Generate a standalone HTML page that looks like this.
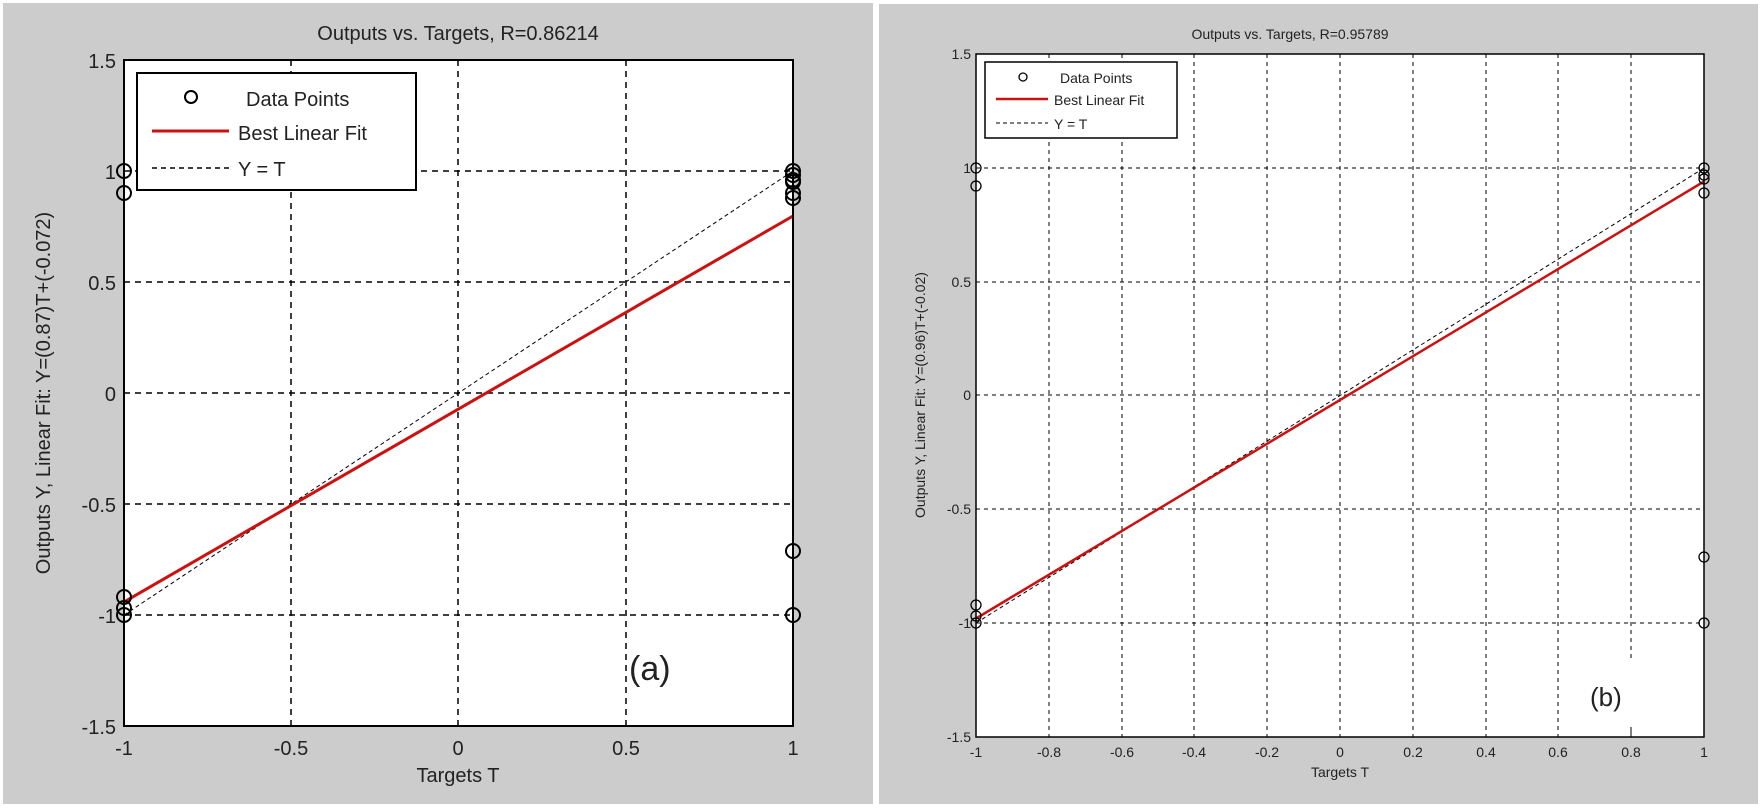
<!DOCTYPE html>
<html><head><style>body{margin:0;background:#fff}svg{display:block}text{font-family:"Liberation Sans",sans-serif;fill:#222}</style></head><body>
<svg width="1761" height="808" viewBox="0 0 1761 808" xmlns="http://www.w3.org/2000/svg">
<rect x="0" y="0" width="1761" height="808" fill="#fff"/>
<rect x="3" y="3" width="870" height="801" fill="#cccccc"/>
<rect x="879" y="4" width="879" height="800" fill="#cccccc"/>
<rect x="124" y="60" width="669" height="666" fill="#fff"/>
<g stroke="#000" stroke-width="1.5" stroke-dasharray="6,5" fill="none">
<line x1="291" y1="60" x2="291" y2="726"/><line x1="458" y1="60" x2="458" y2="726"/><line x1="626" y1="60" x2="626" y2="726"/>
<line x1="124" y1="171" x2="793" y2="171"/><line x1="124" y1="282" x2="793" y2="282"/><line x1="124" y1="393" x2="793" y2="393"/><line x1="124" y1="504" x2="793" y2="504"/><line x1="124" y1="615" x2="793" y2="615"/>
</g>
<line x1="124" y1="615" x2="793" y2="171" stroke="#000" stroke-width="1" stroke-dasharray="4,3"/>
<line x1="124" y1="602" x2="793" y2="216" stroke="#cc1111" stroke-width="3"/>
<g stroke="#000" stroke-width="2" fill="none">
<circle cx="124" cy="171" r="7"/><circle cx="124" cy="193" r="7"/><circle cx="124" cy="597" r="7"/><circle cx="124" cy="608" r="7"/><circle cx="124" cy="615" r="7"/>
<circle cx="793" cy="171" r="7"/><circle cx="793" cy="175" r="7"/><circle cx="793" cy="180" r="7"/><circle cx="793" cy="182" r="7"/><circle cx="793" cy="193" r="7"/><circle cx="793" cy="198" r="7"/><circle cx="793" cy="551" r="7"/><circle cx="793" cy="615" r="7"/>
</g>
<rect x="124" y="60" width="669" height="666" fill="none" stroke="#000" stroke-width="2"/>
<rect x="137" y="73" width="279" height="117" fill="#fff" stroke="#000" stroke-width="2"/>
<circle cx="191" cy="97" r="6" fill="none" stroke="#000" stroke-width="2"/>
<text x="246" y="106" font-size="20">Data Points</text>
<line x1="152" y1="131" x2="229" y2="131" stroke="#cc1111" stroke-width="3"/>
<text x="238" y="140" font-size="20">Best Linear Fit</text>
<line x1="152" y1="168" x2="229" y2="168" stroke="#000" stroke-width="1.5" stroke-dasharray="5,4"/>
<text x="238" y="176" font-size="20">Y = T</text>
<text x="458" y="40" font-size="20" text-anchor="middle">Outputs vs. Targets, R=0.86214</text>
<g font-size="20" text-anchor="end">
<text x="116" y="68">1.5</text><text x="116" y="179">1</text><text x="116" y="290">0.5</text><text x="116" y="401">0</text><text x="116" y="512">-0.5</text><text x="116" y="623">-1</text><text x="116" y="734">-1.5</text>
</g>
<g font-size="20" text-anchor="middle">
<text x="124" y="755">-1</text><text x="291" y="755">-0.5</text><text x="458" y="755">0</text><text x="626" y="755">0.5</text><text x="793" y="755">1</text>
<text x="458" y="782">Targets T</text>
</g>
<text transform="translate(50,393) rotate(-90)" font-size="20" text-anchor="middle">Outputs Y,  Linear Fit: Y=(0.87)T+(-0.072)</text>
<text x="629" y="680" font-size="34" font-family="'DejaVu Sans',sans-serif">(a)</text>
<rect x="976" y="54" width="728" height="683" fill="#fff"/>
<g stroke="#000" stroke-width="1" stroke-dasharray="4,4" fill="none">
<line x1="1049" y1="54" x2="1049" y2="737"/><line x1="1122" y1="54" x2="1122" y2="737"/><line x1="1194" y1="54" x2="1194" y2="737"/><line x1="1267" y1="54" x2="1267" y2="737"/><line x1="1340" y1="54" x2="1340" y2="737"/><line x1="1413" y1="54" x2="1413" y2="737"/><line x1="1486" y1="54" x2="1486" y2="737"/><line x1="1558" y1="54" x2="1558" y2="737"/><line x1="1631" y1="54" x2="1631" y2="660"/>
<line x1="976" y1="168" x2="1704" y2="168"/><line x1="976" y1="282" x2="1704" y2="282"/><line x1="976" y1="395" x2="1704" y2="395"/><line x1="976" y1="509" x2="1704" y2="509"/><line x1="976" y1="623" x2="1704" y2="623"/>
</g>
<line x1="976" y1="623" x2="1704" y2="168" stroke="#000" stroke-width="1" stroke-dasharray="4,3"/>
<line x1="976" y1="618.5" x2="1704" y2="181.5" stroke="#cc1111" stroke-width="2.5"/>
<g stroke="#000" stroke-width="1.3" fill="none">
<circle cx="976" cy="168" r="5"/><circle cx="976" cy="186" r="5"/><circle cx="976" cy="605" r="5"/><circle cx="976" cy="616" r="5"/><circle cx="976" cy="623" r="5"/>
<circle cx="1704" cy="168" r="5"/><circle cx="1704" cy="175" r="5"/><circle cx="1704" cy="179" r="5"/><circle cx="1704" cy="193" r="5"/><circle cx="1704" cy="557" r="5"/><circle cx="1704" cy="623" r="5"/>
</g>
<rect x="976" y="54" width="728" height="683" fill="none" stroke="#000" stroke-width="1.5"/>
<line x1="1631" y1="727" x2="1631" y2="737" stroke="#000"/>
<rect x="985" y="62" width="192" height="76" fill="#fff" stroke="#000" stroke-width="1.5"/>
<circle cx="1023" cy="77" r="4" fill="none" stroke="#000" stroke-width="1.3"/>
<text x="1060" y="83" font-size="14">Data Points</text>
<line x1="996" y1="99" x2="1048" y2="99" stroke="#cc1111" stroke-width="2.5"/>
<text x="1054" y="105" font-size="14">Best Linear Fit</text>
<line x1="996" y1="123" x2="1048" y2="123" stroke="#000" stroke-dasharray="4,3"/>
<text x="1054" y="129" font-size="14">Y = T</text>
<text x="1290" y="39" font-size="14" text-anchor="middle">Outputs vs. Targets, R=0.95789</text>
<g font-size="14" text-anchor="end">
<text x="971" y="59">1.5</text><text x="971" y="173">1</text><text x="971" y="287">0.5</text><text x="971" y="400">0</text><text x="971" y="514">-0.5</text><text x="971" y="628">-1</text><text x="971" y="742">-1.5</text>
</g>
<g font-size="14" text-anchor="middle">
<text x="976" y="757">-1</text><text x="1049" y="757">-0.8</text><text x="1122" y="757">-0.6</text><text x="1194" y="757">-0.4</text><text x="1267" y="757">-0.2</text><text x="1340" y="757">0</text><text x="1413" y="757">0.2</text><text x="1486" y="757">0.4</text><text x="1558" y="757">0.6</text><text x="1631" y="757">0.8</text><text x="1704" y="757">1</text>
<text x="1340" y="777">Targets T</text>
</g>
<text transform="translate(925,395) rotate(-90)" font-size="14" text-anchor="middle">Outputs Y,  Linear Fit: Y=(0.96)T+(-0.02)</text>
<text x="1590" y="706" font-size="26" font-family="'DejaVu Sans',sans-serif">(b)</text>
</svg>
</body></html>
